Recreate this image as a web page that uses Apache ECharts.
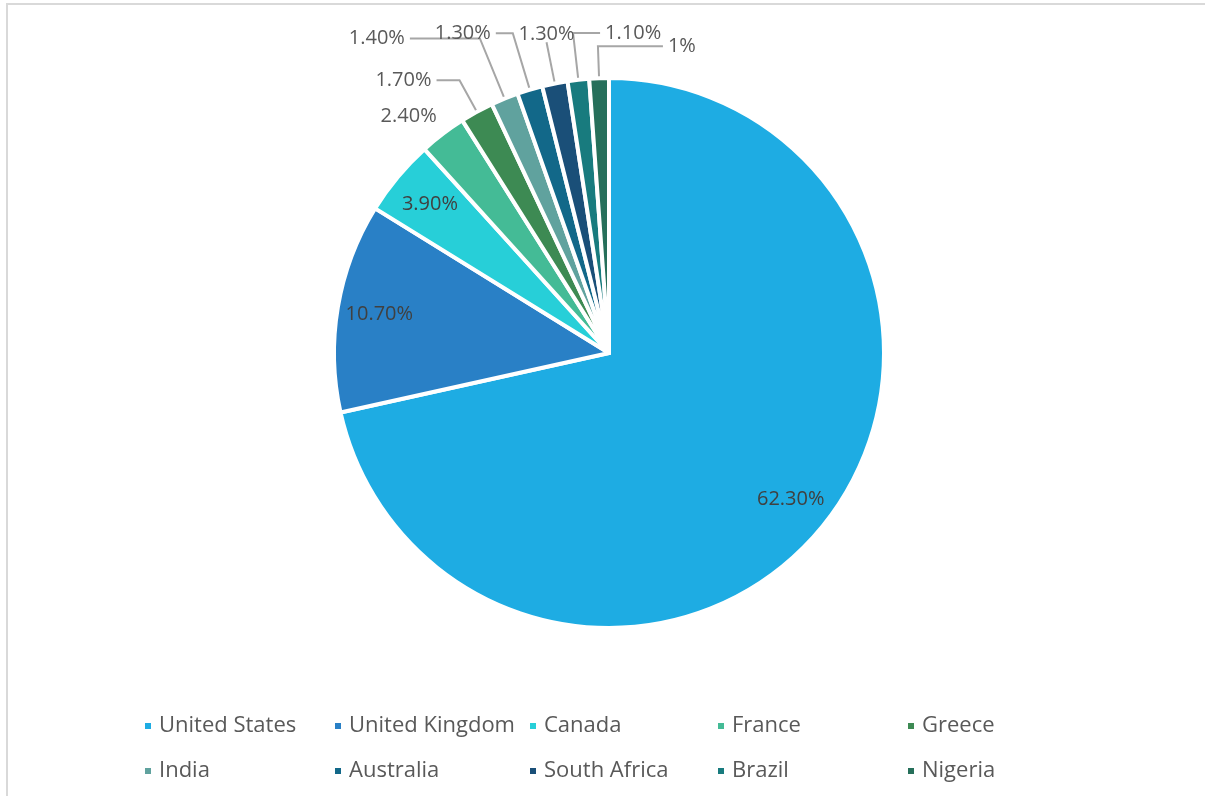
<!DOCTYPE html>
<html>
<head>
<meta charset="utf-8">
<script src="https://cdn.jsdelivr.net/npm/echarts@6/dist/echarts.min.js"></script>
<style>
html,body{margin:0;padding:0;background:#fff;}
#chart{width:1205px;height:798px;}
</style>
</head>
<body>
<div id="chart"></div>
<script>
const countries = ['United States','United Kingdom','Canada','France','Greece','India','Australia','South Africa','Brazil','Nigeria'];
const shares = [62.3, 10.7, 3.9, 2.4, 1.7, 1.4, 1.3, 1.3, 1.1, 1];
const shareLabels = ['62.30%','10.70%','3.90%','2.40%','1.70%','1.40%','1.30%','1.30%','1.10%','1%'];
const colors = ['#1eace3','#2980c6','#27cfd8','#44bb96','#3d8a53','#60a29e','#126889','#1a4f78','#187b7e','#266f5a'];
// label styling (layout only)
const labelSide  = ['in','in','in','upleft','left','left','left','top','right','right'];
const lineLen1   = [0,0,0,10,36,65,59,42,47,32];
const lineLen2   = [0,0,0,0,23,70,17,0,27,65];
const showLine   = [false,false,false,false,true,true,true,true,true,true];
const legendCols = [143,333,528,716,906];
const legendRows = [714,759];

const FONT = 'Open Sans';
const chart = echarts.init(document.getElementById('chart'), null, {renderer:'canvas'});

const outerData = countries.map((n,i)=>({
  name:n, value:shares[i],
  itemStyle:{color:colors[i]},
  label: {show: labelSide[i] !== 'in'},
  labelLine: {show: showLine[i], length: lineLen1[i], length2: lineLen2[i]}
}));
const innerLabelData = countries.map((n,i)=>({
  name:n, value:shares[i],
  label:{show: labelSide[i] === 'in'}
}));

const legends = countries.map((n,i)=>({
  data:[n],
  left: legendCols[i%5],
  top: legendRows[Math.floor(i/5)],
  padding:0,
  icon:'rect', itemWidth:8, itemHeight:8, itemGap:0,
  textStyle:{fontFamily:FONT, fontSize:22, lineHeight:24, color:'#595959', padding:[0,0,0,2]},
  selectedMode:false
}));

chart.setOption({
  animation:false,
  backgroundColor:'#fff',
  legend: legends,
  graphic:[
    {type:'line', shape:{x1:6,y1:4,x2:1205,y2:4}, style:{stroke:'#d9d9d9', lineWidth:2}},
    {type:'line', shape:{x1:7,y1:4,x2:7,y2:796}, style:{stroke:'#d9d9d9', lineWidth:2}}
  ],
  series:[
    {
      type:'pie', name:'main',
      center:[609,353], radius:[0,275],
      startAngle:90, clockwise:true,
      avoidLabelOverlap:false,
      itemStyle:{borderColor:'#fff', borderWidth:4},
      label:{
        position:'outside',
        formatter:(p)=>shareLabels[p.dataIndex],
        fontFamily:FONT, fontSize:20, color:'#595959'
      },
      labelLine:{lineStyle:{color:'#a6a6a6', width:2}},
      labelLayout:function(p){
        const side = labelSide[p.dataIndex];
        const pts = p.labelLinePoints;
        if(!pts || side==='left' || side==='in') return {};
        const p0 = pts[0], p1 = pts[1], p2 = pts[2];
        if(side==='right'){
          const end = [2*p1[0]-p2[0], p1[1]];
          return {x:end[0]+5, y:end[1], align:'left', verticalAlign:'middle', labelLinePoints:[p0,p1,end]};
        }
        if(side==='top'){
          return {x:p1[0], y:p1[1]+2, align:'center', verticalAlign:'bottom', labelLinePoints:[p0,p1,p1]};
        }
        if(side==='upleft'){
          return {x:p1[0], y:p1[1], align:'right', verticalAlign:'bottom', labelLinePoints:[p0,p1,p1]};
        }
        return {};
      },
      emphasis:{disabled:true},
      data: outerData
    },
    {
      type:'pie', name:'labels', silent:true,
      center:[609,353], radius:[185,275],
      startAngle:90, clockwise:true,
      itemStyle:{color:'rgba(0,0,0,0)'},
      label:{
        position:'inside',
        formatter:(p)=>shareLabels[p.dataIndex],
        fontFamily:FONT, fontSize:20, color:'#404040'
      },
      labelLine:{show:false},
      emphasis:{disabled:true},
      data: innerLabelData
    }
  ]
});
</script>
</body>
</html>
